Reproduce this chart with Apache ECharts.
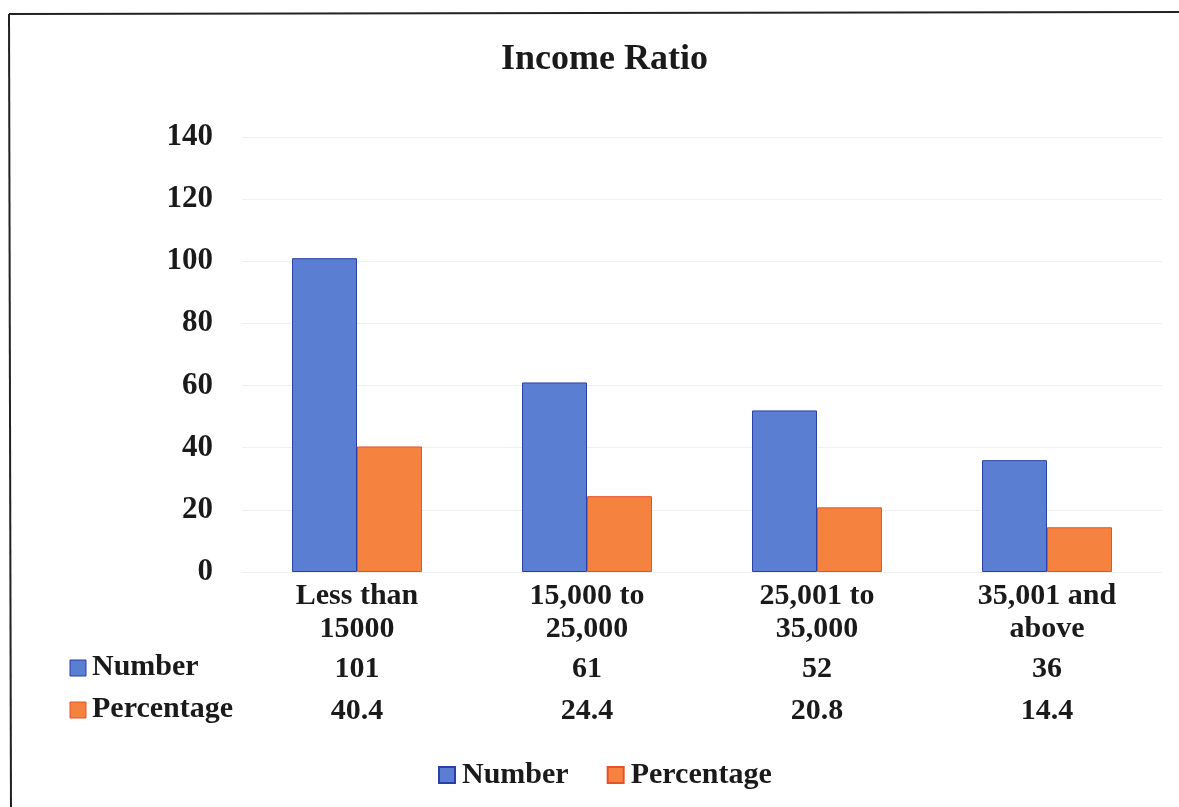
<!DOCTYPE html>
<html>
<head>
<meta charset="utf-8">
<script src="https://cdn.jsdelivr.net/npm/echarts@6/dist/echarts.min.js"></script>
<style>
html,body{margin:0;padding:0;background:#fff;}
#main{width:1179px;height:807px;}
</style>
</head>
<body>
<div id="main"></div>
<script>
var title = 'Income Ratio';
var categories = ['Less than\n15000', '15,000 to\n25,000', '25,001 to\n35,000', '35,001 and\nabove'];
var seriesNames = ['Number', 'Percentage'];
var numberValues = [101, 61, 52, 36];
var percentageValues = [40.4, 24.4, 20.8, 14.4];
var yTicks = [0, 20, 40, 60, 80, 100, 120, 140];

var FONT = '"Liberation Serif", "Times New Roman", serif';
var BLUE = '#5a7fd2', BLUE_B = '#2a3fa8';
var ORANGE = '#f6823f', ORANGE_B = '#e8502a';

var chart = echarts.init(document.getElementById('main'));

function labelFor(value, idx) {
  var lines = value.split('\n');
  return '{c|' + lines[0] + '}\n{c|' + lines[1] + '}\n{v1|' + numberValues[idx] + '}\n{v2|' + percentageValues[idx] + '}';
}

var option = {
  backgroundColor: '#fff',
  animation: false,
  title: {
    text: title,
    left: 496,
    top: 37,
    textStyle: { fontFamily: FONT, fontWeight: 'bold', fontSize: 36, color: '#1a1a1a' }
  },
  grid: { left: 242, right: 17, top: 137, bottom: 235 },
  legend: {
    data: seriesNames,
    left: 433,
    top: 755,
    itemWidth: 16,
    itemHeight: 16,
    itemGap: 38,
    icon: 'rect',
    textStyle: { fontFamily: FONT, fontWeight: 'bold', fontSize: 30, color: '#1a1a1a', padding: [0, 0, 0, 2] }
  },
  xAxis: {
    type: 'category',
    data: categories,
    axisLine: { show: false },
    axisTick: { show: false },
    axisLabel: {
      interval: 0,
      margin: 8,
      formatter: labelFor,
      rich: {
        c: { fontFamily: FONT, fontWeight: 'bold', fontSize: 30, lineHeight: 33, color: '#1a1a1a' },
        v1: { fontFamily: FONT, fontWeight: 'bold', fontSize: 30, lineHeight: 47, color: '#1a1a1a' },
        v2: { fontFamily: FONT, fontWeight: 'bold', fontSize: 30, lineHeight: 37, color: '#1a1a1a' }
      }
    }
  },
  yAxis: {
    type: 'value',
    min: yTicks[0],
    max: yTicks[yTicks.length - 1],
    interval: yTicks[1] - yTicks[0],
    axisLine: { show: false },
    axisTick: { show: false },
    splitLine: { lineStyle: { color: '#efefef', width: 1 } },
    axisLabel: {
      margin: 29,
      fontFamily: FONT, fontWeight: 'bold', fontSize: 31, color: '#1a1a1a'
    }
  },
  series: [
    {
      name: seriesNames[0], type: 'bar', data: numberValues,
      barGap: '0%', barCategoryGap: '43.5%',
      itemStyle: { color: BLUE, borderColor: BLUE_B, borderWidth: 1 }
    },
    {
      name: seriesNames[1], type: 'bar', data: percentageValues,
      barGap: '0%', barCategoryGap: '43.5%',
      itemStyle: { color: ORANGE, borderColor: ORANGE_B, borderWidth: 1 }
    }
  ],
  graphic: [
    { type: 'line', shape: { x1: 9, y1: 14, x2: 1179, y2: 12 }, style: { stroke: '#222', lineWidth: 2 } },
    { type: 'line', shape: { x1: 9, y1: 14, x2: 11, y2: 807 }, style: { stroke: '#222', lineWidth: 2 } },
    { type: 'rect', shape: { x: 70, y: 660, width: 16, height: 16 }, style: { fill: BLUE, stroke: BLUE_B, lineWidth: 1 } },
    { type: 'text', left: 92, top: 652, style: { text: seriesNames[0], font: 'bold 30px ' + FONT, fill: '#1a1a1a' } },
    { type: 'rect', shape: { x: 70, y: 702, width: 16, height: 16 }, style: { fill: ORANGE, stroke: ORANGE_B, lineWidth: 1 } },
    { type: 'text', left: 92, top: 694, style: { text: seriesNames[1], font: 'bold 30px ' + FONT, fill: '#1a1a1a' } }
  ]
};
chart.setOption(option);
</script>
</body>
</html>
